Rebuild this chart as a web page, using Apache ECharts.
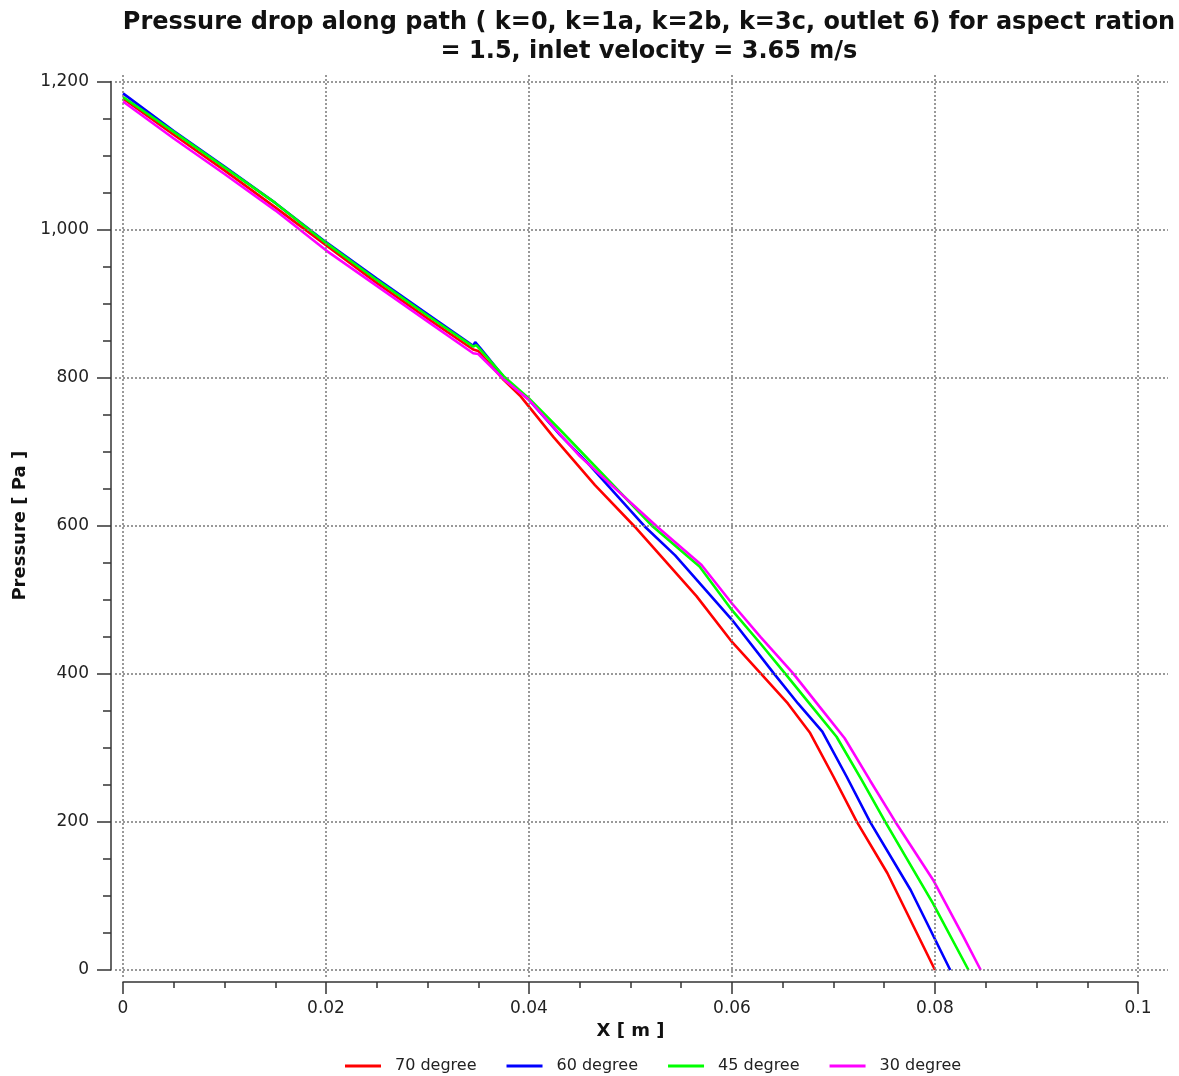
<!DOCTYPE html>
<html><head><meta charset="utf-8">
<script src="https://cdn.jsdelivr.net/npm/echarts@6/dist/echarts.min.js"></script>
<style>html,body{margin:0;padding:0;background:#fff}#c{width:1179px;height:1076px}</style>
</head><body><div id="c"></div>
<script>
const seriesNames = ['70 degree', '60 degree', '45 degree', '30 degree'];
const seriesColors = ['#ff0000', '#0000ff', '#00ff00', '#ff00ff'];
const red70 = [[0,1177],[0.005,1128],[0.01,1080],[0.015,1030],[0.02,979],[0.025,928],[0.03,880],[0.0345,838],[0.035,836],[0.0375,797],[0.0391,776],[0.0424,720],[0.0465,655],[0.0504,599],[0.0532,556],[0.0565,505],[0.06,443],[0.0628,401],[0.0655,360],[0.0677,320],[0.07,261],[0.0723,200],[0.0753,131],[0.08,0]];
const blue60 = [[0,1184],[0.005,1133],[0.01,1085],[0.015,1036],[0.02,983],[0.025,934],[0.03,886],[0.0345,843],[0.0347,848],[0.0352,840],[0.0375,801],[0.04,770],[0.0431,722],[0.0457,686],[0.0514,599],[0.0544,560],[0.06,473],[0.0641,401],[0.0665,360],[0.0689,322],[0.0713,261],[0.0736,200],[0.0776,108],[0.0815,0]];
const green45 = [[0,1179],[0.005,1132],[0.01,1084],[0.015,1036],[0.02,982],[0.025,932],[0.03,884],[0.0345,842],[0.0348,844],[0.0352,838],[0.0375,802],[0.04,772],[0.0431,729],[0.0522,599],[0.0568,545],[0.06,486],[0.0628,441],[0.0652,401],[0.0678,357],[0.0703,315],[0.0728,256],[0.0751,200],[0.0798,90],[0.0833,0]];
const magenta30 = [[0,1173],[0.005,1123],[0.01,1075],[0.015,1026],[0.02,972],[0.025,924],[0.03,876],[0.0345,833],[0.035,832],[0.0375,798],[0.04,770],[0.045,694],[0.0526,599],[0.057,547],[0.06,495],[0.0628,450],[0.066,401],[0.0686,356],[0.0711,313],[0.0736,256],[0.0761,200],[0.0798,122],[0.0828,45],[0.0845,0]];
const xTicks = [0, 0.02, 0.04, 0.06, 0.08, 0.1];
const yTicks = [0, 200, 400, 600, 800, 1000, 1200];
const titleLines = ['Pressure drop along path ( k=0, k=1a, k=2b, k=3c, outlet 6) for aspect ration', '= 1.5, inlet velocity = 3.65 m/s'];

const allData = [red70, blue60, green45, magenta30];
const FONT = 'DejaVu Sans';
const gridStyle = {color: '#808080', width: 1.6, type: [2, 2]};

const chart = echarts.init(document.getElementById('c'), null, {renderer: 'canvas'});
const dataSeries = allData.map((d, i) => ({
  name: seriesNames[i], type: 'line', xAxisIndex: 0, yAxisIndex: 0,
  data: d, symbol: 'none', showSymbol: false, z: 3,
  lineStyle: {color: seriesColors[i], width: 2.6}, itemStyle: {color: seriesColors[i]},
  animation: false
}));
const gridSeries = {
  type: 'line', xAxisIndex: 1, yAxisIndex: 1, data: [], silent: true, z: 1, animation: false,
  markLine: {
    silent: true, symbol: ['none', 'none'], animation: false,
    label: {show: false}, lineStyle: gridStyle,
    emphasis: {disabled: true},
    data: xTicks.map(v => ({xAxis: v})).concat(yTicks.map(v => ({yAxis: v})))
  }
};

chart.setOption({
  animation: false,
  backgroundColor: '#fff',
  title: {
    text: titleLines.join('\n'), left: 644, top: 3, textAlign: 'center',
    textStyle: {fontFamily: FONT, fontWeight: 'bold', fontSize: 24, color: '#111', lineHeight: 29}
  },
  legend: {
    top: 1053, left: 340, itemWidth: 36, itemHeight: 3, itemGap: 30, icon: 'rect',
    data: seriesNames,
    textStyle: {fontFamily: FONT, fontSize: 16, color: '#222', padding: [0, 0, 0, 9]}
  },
  grid: [
    {left: 123, right: 41, top: 81.5, bottom: 106},
    {left: 115, right: 11, top: 75, bottom: 99}
  ],
  xAxis: [
    {type: 'value', gridIndex: 0, min: 0, max: 0.1, interval: 0.02, offset: 12,
     name: 'X [ m ]', nameLocation: 'middle', nameGap: 40,
     nameTextStyle: {fontFamily: FONT, fontWeight: 'bold', fontSize: 18, color: '#111'},
     axisLine: {show: true, onZero: false, lineStyle: {color: '#333', width: 1.5}},
     axisTick: {show: true, inside: false, length: 12, lineStyle: {color: '#333', width: 1.5}},
     minorTick: {show: true, splitNumber: 4, length: 6, lineStyle: {color: '#333', width: 1.5}},
     splitLine: {show: false},
     axisLabel: {margin: 18, fontFamily: FONT, fontSize: 17, color: '#222',
       formatter: v => String(+v.toFixed(4))}},
    {type: 'value', gridIndex: 1, min: -0.000788, max: 0.102956, show: false,
     splitLine: {show: false}}
  ],
  yAxis: [
    {type: 'value', gridIndex: 0, min: 0, max: 1200, interval: 200, offset: 12,
     name: 'Pressure [ Pa ]', nameLocation: 'middle', nameGap: 82,
     nameTextStyle: {fontFamily: FONT, fontWeight: 'bold', fontSize: 18, color: '#111'},
     axisLine: {show: true, onZero: false, lineStyle: {color: '#333', width: 1.5}},
     axisTick: {show: true, inside: false, length: 14, lineStyle: {color: '#333', width: 1.5}},
     minorTick: {show: true, splitNumber: 4, length: 8, lineStyle: {color: '#333', width: 1.5}},
     splitLine: {show: false},
     axisLabel: {margin: 22, fontFamily: FONT, fontSize: 17, color: '#222',
       formatter: v => v.toLocaleString('en-US')}},
    {type: 'value', gridIndex: 1, min: -9.45, max: 1208.78, show: false,
     splitLine: {show: false}}
  ],
  series: [gridSeries].concat(dataSeries)
});
</script></body></html>
